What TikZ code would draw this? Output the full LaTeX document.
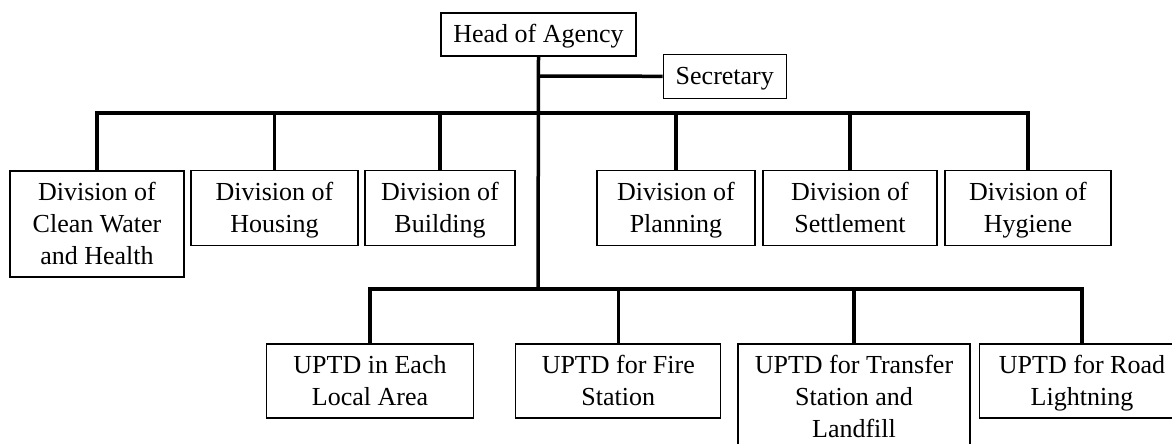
\documentclass[tikz,border=0pt]{standalone}
\usepackage{fontspec}
\setmainfont{Liberation Serif}
\newcommand{\tstr}{\rule[-4.8pt]{0pt}{26.8pt}}
\begin{document}
\begin{tikzpicture}[x=1pt,y=-1pt,
  box/.style={draw,line width=1.3pt,inner sep=0pt,align=center,
    font=\fontsize{26}{32}\selectfont},
  link/.style={line width=3.5pt}]
\useasboundingbox (0,0) rectangle (1172,444);
\clip (0,0) rectangle (1172,444);
\node[box,minimum width=195pt,minimum height=43pt] (head) at (538.5,34.5) {\tstr Head of Agency};
\node[box,minimum width=123pt,minimum height=44pt] (sec) at (724.8,76.3) {\tstr Secretary};
\node[box,minimum width=174pt,minimum height=106pt] (clean) at (97,224) {\tstr Division of\\\tstr Clean Water\\\tstr and Health};
\node[box,minimum width=167pt,minimum height=75pt] (housing) at (274.5,208) {\tstr Division of\\\tstr Housing};
\node[box,minimum width=150pt,minimum height=75pt] (building) at (440,208) {\tstr Division of\\\tstr Building};
\node[box,minimum width=158pt,minimum height=75pt] (planning) at (676,208) {\tstr Division of\\\tstr Planning};
\node[box,minimum width=174pt,minimum height=75pt] (settlement) at (850,208) {\tstr Division of\\\tstr Settlement};
\node[box,minimum width=166pt,minimum height=75pt] (hygiene) at (1028,208) {\tstr Division of\\\tstr Hygiene};
\node[box,minimum width=207pt,minimum height=74pt] (local) at (370,381) {\tstr UPTD in Each\\\tstr Local Area};
\node[box,minimum width=205pt,minimum height=74pt] (fire) at (618.3,381) {\tstr UPTD for Fire\\\tstr Station};
\node[box,minimum width=232pt,minimum height=106pt] (transfer) at (854,397) {\tstr UPTD for Transfer\\\tstr Station and\\\tstr Landfill};
\node[box,minimum width=205pt,minimum height=74pt] (road) at (1082,381) {\tstr UPTD for Road\\\tstr Lightning};
\coordinate (j1) at (538,76);
\coordinate (j2) at (538,113);
\coordinate (j3) at (538,289);
\draw[link] (head.south) -- (j3);
\draw[link] (j1) -- (sec.west);
\draw[link] (clean.north) |- (j2) -| (hygiene.north);
\draw[link] (housing.north) -- (housing.north |- j2);
\draw[link] (building.north) -- (building.north |- j2);
\draw[link] (planning.north) -- (planning.north |- j2);
\draw[link] (settlement.north) -- (settlement.north |- j2);
\draw[link] (local.north) |- (j3) -| (road.north);
\draw[link] (fire.north) -- (fire.north |- j3);
\draw[link] (transfer.north) -- (transfer.north |- j3);
\end{tikzpicture}
\end{document}
